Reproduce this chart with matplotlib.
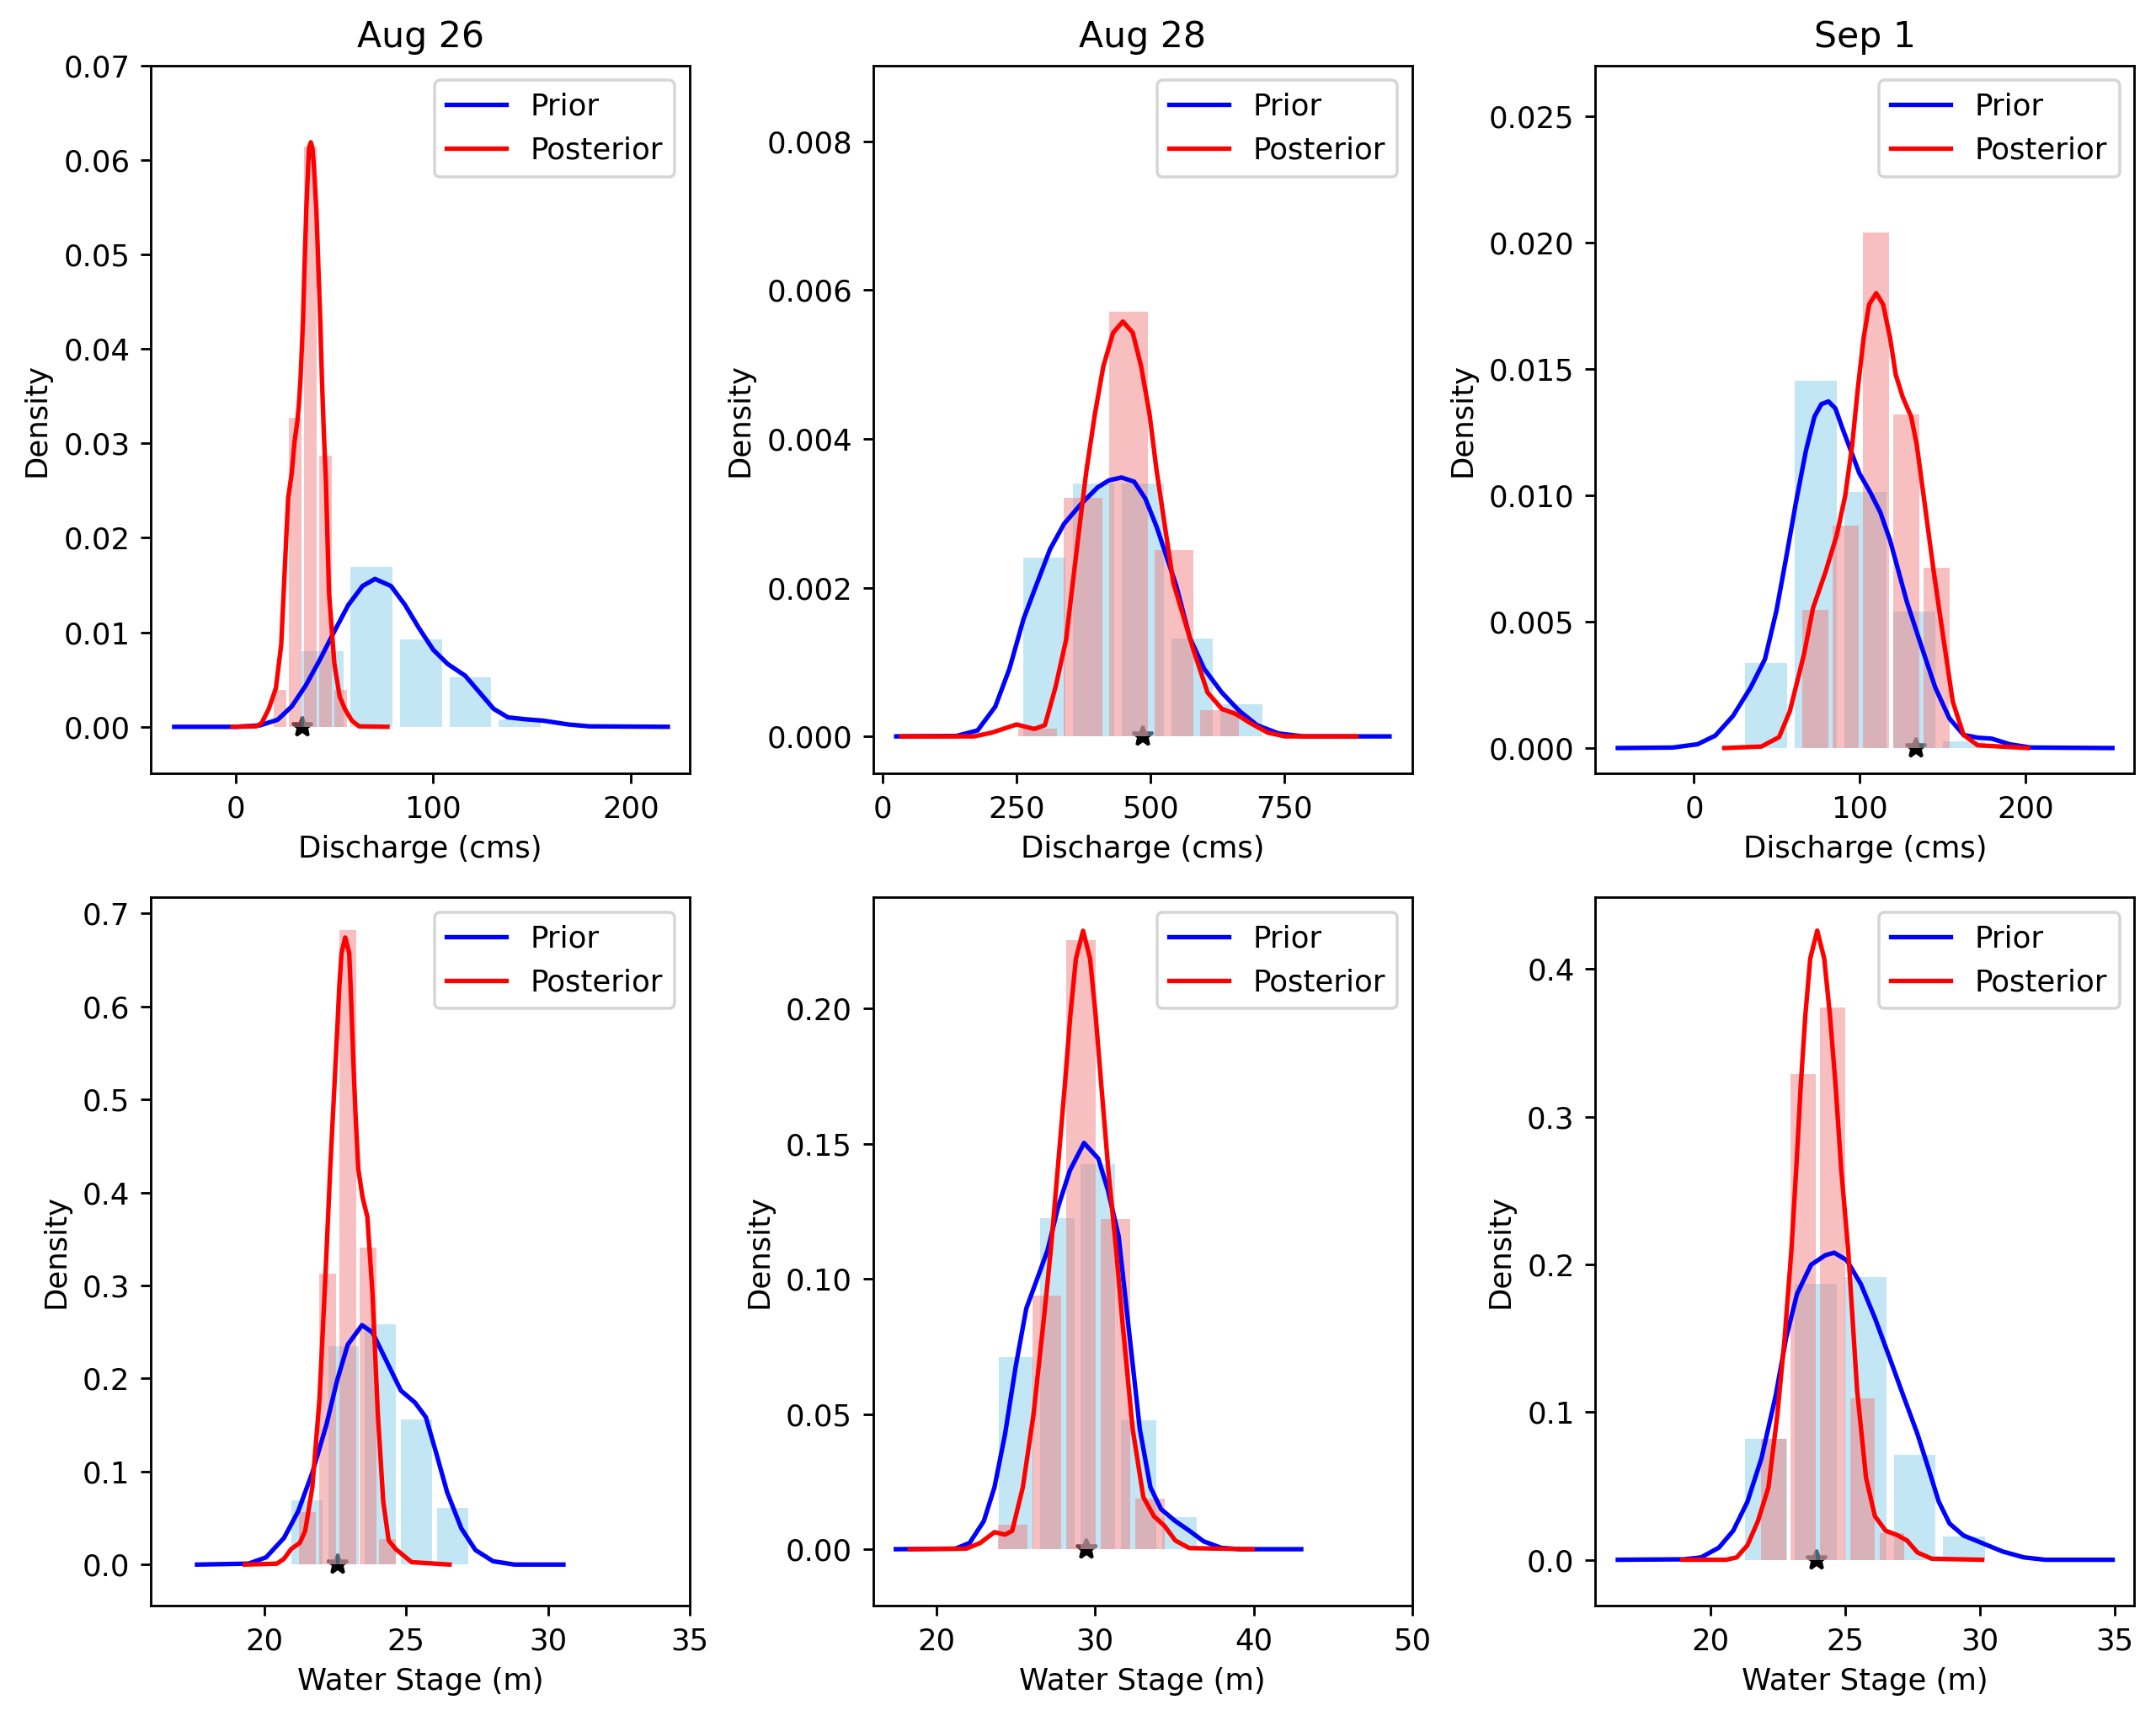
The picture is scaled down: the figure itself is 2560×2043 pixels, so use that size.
import numpy as np
import matplotlib.pyplot as plt

# titles / labels
dates = ['Aug 26', 'Aug 28', 'Sep 1']
xlabels = ['Discharge (cms)', 'Water Stage (m)']

# ---------------- Aug 26 discharge ----------------
q26_obs = 33.7
q26_prior_edges = [31.3, 56.3, 81.3, 106.3, 131.3, 156.3]
q26_prior_hist = [0.0080, 0.0169, 0.00925, 0.00525, 0.00075]
q26_post_edges = [18.45, 26.15, 33.85, 41.55, 49.25, 56.95]
q26_post_hist = [0.0039, 0.0327, 0.0614, 0.0287, 0.0039]
q26_prior_x = [-31.2, 0, 12.2, 21.2, 28.3, 35.5, 42.7, 49.9, 57.0, 64.2, 70.5, 78.6, 85.7,
               92.9, 100, 107.3, 116.2, 123.4, 130.6, 137.8, 146.7, 155.7, 168.3, 179, 218.8]
q26_prior_y = [0, 0, 0.00015, 0.00075, 0.00215, 0.0044, 0.00715, 0.0101, 0.0129, 0.0149, 0.01565,
               0.0149, 0.0129, 0.0104, 0.00815, 0.00665, 0.0054, 0.00365, 0.0019, 0.001, 0.0008,
               0.00065, 0.00025, 0.00005, 0]
q26_post_x = [-1.6, 10.4, 13.1, 16.7, 20.3, 23.0, 24.8, 26.5, 28.3, 29.7, 31.1, 31.9, 32.8, 34.0,
              34.8, 35.7, 36.6, 37.1, 38.0, 38.8, 39.6, 40.8, 41.8, 42.8, 43.6, 44.6, 45.6, 47.2,
              49.9, 52.6, 55.2, 58.8, 62.4, 76.8]
q26_post_y = [0, 0.00005, 0.0004, 0.0019, 0.0041, 0.0087, 0.0167, 0.0242, 0.0268, 0.0301, 0.0322,
              0.0339, 0.0369, 0.04285, 0.04878, 0.05473, 0.05918, 0.06126, 0.06186, 0.06126,
              0.05918, 0.05473, 0.04878, 0.04285, 0.0369, 0.03096, 0.0262, 0.0142, 0.0067, 0.0032,
              0.0019, 0.00065, 0.00005, 0]

# ---------------- Aug 28 discharge ----------------
q28_obs = 486.8
q28_prior_edges = [255.6, 347.8, 440.0, 532.2, 624.4, 716.6]
q28_prior_hist = [0.0024, 0.0034, 0.0034, 0.00131, 0.00043]
q28_post_edges = [247.5, 332.5, 417.5, 502.5, 587.5, 672.5]
q28_post_hist = [0.0001, 0.00321, 0.00571, 0.0025, 0.000356]
q28_prior_x = [25.1, 137.6, 177.2, 210.3, 236.8, 263.2, 286.5, 312.7, 338.8, 370.2, 401.7, 422.7,
               446.2, 469.8, 490.7, 511.7, 532.8, 548.5, 574.1, 600.5, 633.6, 666.7, 699.7, 739.4,
               785.7, 947]
q28_prior_y = [0, 0.000006, 0.00008, 0.0004, 0.00091, 0.00158, 0.002025, 0.002517, 0.002857,
               0.003121, 0.003348, 0.003442, 0.00348, 0.003424, 0.003197, 0.002819, 0.002365,
               0.002025, 0.00132, 0.00091, 0.00059, 0.00034, 0.00015, 0.00004, 0, 0]
q28_post_x = [35, 170.6, 203.7, 250, 283, 303, 322.8, 342.6, 354.5, 367.7, 380.7, 396.4, 412.2,
              430.5, 448.8, 467.2, 482.9, 498.6, 511.7, 527.4, 543.1, 580.7, 607, 633.6, 660,
              686.5, 719.6, 752.6, 885]
q28_post_y = [0, 0, 0.00005, 0.00016, 0.0001, 0.00015, 0.00066, 0.0013, 0.002025, 0.002819,
              0.003575, 0.004331, 0.004973, 0.005426, 0.005577, 0.005426, 0.004973, 0.004331,
              0.003575, 0.002819, 0.002064, 0.00116, 0.00059, 0.00037, 0.0003, 0.00018, 0.00005,
              0, 0]

# ---------------- Sep 1 discharge ----------------
q01_obs = 134.1
q01_prior_edges = [28.6, 58.44, 88.28, 118.12, 147.96, 177.8]
q01_prior_hist = [0.00337, 0.01452, 0.01012, 0.00539, 0.00028]
q01_post_edges = [64.0, 82.3, 100.7, 119.0, 137.3, 155.7]
q01_post_hist = [0.00548, 0.00879, 0.0204, 0.01321, 0.00713]
q01_prior_x = [-46, -12.8, 2.1, 12.8, 23.5, 34.2, 42.8, 49.7, 55.6, 61.6, 67.5, 72.6, 76.8, 81.1,
               85.3, 89.5, 94.6, 99.7, 106.5, 112.4, 118.3, 123.4, 128.5, 136.9, 145.5, 154, 162.6,
               171.1, 179.7, 190.4, 203.2, 252.4]
q01_prior_y = [0, 0.00002, 0.00015, 0.00049, 0.00127, 0.0024, 0.00352, 0.00543, 0.00754, 0.00976,
               0.01176, 0.0131, 0.0136, 0.01371, 0.01343, 0.01265, 0.01176, 0.01087, 0.01009,
               0.00932, 0.00821, 0.00698, 0.00576, 0.00408, 0.0024, 0.00118, 0.00052, 0.00041,
               0.00037, 0.00015, 0.00002, 0]
q01_post_x = [18.2, 40.6, 51.3, 57.8, 66.3, 71.8, 79.4, 86.1, 91.2, 95.4, 98.8, 102.3, 105.6,
              109.9, 114.1, 118.3, 121.7, 125.9, 131.0, 134.4, 137.8, 141.2, 144.6, 148.0, 156.1,
              162.6, 171.1, 201.5]
q01_post_y = [0, 0.00006, 0.00043, 0.00146, 0.0037, 0.00554, 0.00698, 0.00843, 0.00998, 0.01198,
              0.01421, 0.01621, 0.01754, 0.01799, 0.01754, 0.01621, 0.01476, 0.01388, 0.0131,
              0.01198, 0.01032, 0.00865, 0.00698, 0.00543, 0.00183, 0.00052, 0.00011, 0]

# ---------------- Aug 26 stage ----------------
h26_obs = 22.59
h26_prior_edges = [20.87, 22.15, 23.43, 24.72, 26.0, 27.28]
h26_prior_hist = [0.0691, 0.2349, 0.2583, 0.1559, 0.0613]
h26_post_edges = [21.18, 21.88, 22.58, 23.29, 23.99, 24.69]
h26_post_hist = [0.0561, 0.3129, 0.6824, 0.3404, 0.027]
h26_prior_x = [17.625, 19.44, 20.06, 20.69, 21.19, 21.69, 22.19, 22.56, 22.94, 23.44, 23.81, 24.31,
               24.81, 25.31, 25.69, 26.06, 26.44, 26.94, 27.44, 28.06, 28.81, 30.54]
h26_prior_y = [0, 0.001, 0.0078, 0.0286, 0.0572, 0.0988, 0.1507, 0.1975, 0.2365, 0.2573, 0.2495,
               0.2183, 0.1871, 0.1741, 0.1585, 0.1195, 0.078, 0.039, 0.0156, 0.0036, 0, 0]
h26_post_x = [19.31, 20.44, 20.69, 20.94, 21.25, 21.44, 21.69, 21.94, 22.17, 22.32, 22.47, 22.57,
              22.64, 22.72, 22.85, 22.99, 23.06, 23.13, 23.21, 23.31, 23.46, 23.63, 23.81, 24.0,
              24.19, 24.38, 24.63, 24.88, 25.19, 26.525]
h26_post_y = [0, 0.001, 0.0062, 0.0166, 0.0234, 0.0364, 0.0832, 0.1767, 0.3224, 0.425, 0.5155,
              0.5759, 0.6212, 0.6574, 0.674, 0.6574, 0.6061, 0.5457, 0.4854, 0.425, 0.3948, 0.3737,
              0.2911, 0.1611, 0.0676, 0.026, 0.0166, 0.0104, 0.0026, 0]

# ---------------- Aug 28 stage ----------------
h28_obs = 29.46
h28_prior_edges = [23.75, 26.32, 28.89, 31.46, 34.03, 36.6]
h28_prior_hist = [0.0712, 0.1225, 0.1424, 0.0476, 0.0118]
h28_post_edges = [23.72, 25.88, 28.04, 30.21, 32.37, 34.53]
h28_post_hist = [0.0091, 0.0939, 0.2254, 0.1222, 0.0186]
h28_prior_x = [17.43, 21.19, 22.08, 22.98, 23.65, 24.32, 24.99, 25.66, 26.33, 27.0, 27.67, 28.4,
               29.3, 30.2, 30.8, 31.48, 32.15, 32.82, 33.49, 34.16, 35.06, 35.95, 36.85, 37.96,
               39.08, 43.0]
h28_prior_y = [0, 0.0002, 0.0023, 0.0104, 0.0229, 0.0426, 0.0676, 0.0891, 0.0998, 0.1106, 0.1267,
               0.1400, 0.1503, 0.1445, 0.1330, 0.1159, 0.0801, 0.0444, 0.0229, 0.0148, 0.0104,
               0.0068, 0.0029, 0.0005, 0, 0]
h28_post_x = [18.32, 21.86, 22.75, 23.65, 24.32, 24.77, 25.44, 26.11, 26.78, 27.2, 27.64, 28.09,
              28.44, 28.79, 29.24, 29.68, 30.03, 30.39, 30.83, 31.33, 31.7, 32.37, 33.04, 33.71,
              34.38, 35.06, 35.95, 39.93]
h28_post_y = [0, 0.0002, 0.0023, 0.0063, 0.0054, 0.0068, 0.0229, 0.0497, 0.0860, 0.1104, 0.1405,
              0.1717, 0.1977, 0.2185, 0.2288, 0.2185, 0.1977, 0.1717, 0.1405, 0.1104, 0.0855,
              0.0444, 0.0193, 0.0122, 0.0086, 0.0032, 0.0004, 0]

# ---------------- Sep 1 stage ----------------
h01_obs = 23.92
h01_prior_edges = [21.14, 22.98, 24.81, 26.65, 28.48, 30.32]
h01_prior_hist = [0.0818, 0.1866, 0.1915, 0.071, 0.0157]
h01_post_edges = [21.79, 22.89, 23.98, 25.08, 26.18, 27.27]
h01_post_hist = [0.0818, 0.329, 0.3741, 0.1093, 0.018]
h01_prior_x = [16.55, 18.99, 19.64, 20.3, 20.83, 21.36, 21.88, 22.41, 22.8, 23.2, 23.72, 24.25,
               24.58, 25.04, 25.57, 26.09, 26.62, 27.14, 27.67, 28.07, 28.46, 28.86, 29.38, 30.04,
               30.83, 31.62, 32.41, 34.91]
h01_prior_y = [0, 0.0003, 0.0016, 0.0082, 0.0196, 0.0393, 0.0687, 0.1113, 0.1506, 0.18, 0.1997,
               0.2062, 0.2079, 0.2029, 0.1866, 0.1637, 0.1375, 0.1113, 0.0851, 0.0622, 0.0393,
               0.0245, 0.0164, 0.0115, 0.0056, 0.0016, 0, 0]
h01_post_x = [18.95, 20.57, 20.96, 21.36, 21.75, 22.14, 22.47, 22.74, 22.99, 23.17, 23.34, 23.51,
              23.69, 23.95, 24.21, 24.42, 24.63, 24.84, 25.1, 25.43, 25.76, 26.09, 26.49, 26.88,
              27.28, 27.67, 28.2, 30.07]
h01_post_y = [0, 0, 0.0016, 0.0098, 0.0262, 0.0491, 0.0982, 0.15, 0.2093, 0.2644, 0.3214, 0.3689,
              0.407, 0.426, 0.407, 0.3689, 0.3214, 0.2644, 0.2093, 0.1146, 0.0556, 0.0295, 0.0196,
              0.017, 0.0131, 0.0049, 0.0007, 0]

# axis settings per panel (row-major)
xlims = [(-43, 230), (-17.9, 989.4), (-59.5, 265.7), (16, 35), (16, 50), (15.72, 35.72)]
ylims = [(-0.00495, 0.07), (-0.0005, 0.00902), (-0.00101, 0.027),
         (-0.0442, 0.717), (-0.0209, 0.2411), (-0.0311, 0.4484)]
xticks = [[0, 100, 200], [0, 250, 500, 750], [0, 100, 200],
          [20, 25, 30, 35], [20, 30, 40, 50], [20, 25, 30, 35]]
yticks = [np.arange(0, 0.0701, 0.01), np.arange(0, 0.00801, 0.002), np.arange(0, 0.02501, 0.005),
          np.arange(0, 0.701, 0.1), np.arange(0, 0.2001, 0.05), np.arange(0, 0.401, 0.1)]

panels = [
    (q26_obs, q26_prior_edges, q26_prior_hist, q26_post_edges, q26_post_hist,
     q26_prior_x, q26_prior_y, q26_post_x, q26_post_y),
    (q28_obs, q28_prior_edges, q28_prior_hist, q28_post_edges, q28_post_hist,
     q28_prior_x, q28_prior_y, q28_post_x, q28_post_y),
    (q01_obs, q01_prior_edges, q01_prior_hist, q01_post_edges, q01_post_hist,
     q01_prior_x, q01_prior_y, q01_post_x, q01_post_y),
    (h26_obs, h26_prior_edges, h26_prior_hist, h26_post_edges, h26_post_hist,
     h26_prior_x, h26_prior_y, h26_post_x, h26_post_y),
    (h28_obs, h28_prior_edges, h28_prior_hist, h28_post_edges, h28_post_hist,
     h28_prior_x, h28_prior_y, h28_post_x, h28_post_y),
    (h01_obs, h01_prior_edges, h01_prior_hist, h01_post_edges, h01_post_hist,
     h01_prior_x, h01_prior_y, h01_post_x, h01_post_y),
]

fig, axes = plt.subplots(2, 3, figsize=(10, 7.9805), dpi=256)
fig.subplots_adjust(left=0.070, right=0.990, top=0.962, bottom=0.067, wspace=0.34, hspace=0.175)

for i, ax in enumerate(axes.flat):
    obs, pe, ph, qe, qh, px, py, qx, qy = panels[i]
    # observed value marker sits under the bars
    ax.plot([obs], [0], marker='*', color='black', markersize=7, linestyle='none', zorder=1)
    ax.hist(pe[:-1], bins=pe, weights=ph, rwidth=0.85, color='skyblue', alpha=0.5, zorder=1.5)
    ax.hist(qe[:-1], bins=qe, weights=qh, rwidth=0.85, color='lightcoral', alpha=0.5, zorder=1.5)
    ax.plot(px, py, color='blue', lw=1.5, label='Prior', zorder=2)
    ax.plot(qx, qy, color='red', lw=1.5, label='Posterior', zorder=2)
    ax.set_xlim(xlims[i])
    ax.set_ylim(ylims[i])
    ax.set_xticks(xticks[i])
    ax.set_yticks(yticks[i])
    ax.set_ylabel('Density')
    ax.set_xlabel(xlabels[i // 3])
    if i < 3:
        ax.set_title(dates[i], fontsize=12)
    ax.legend(loc='upper right')

plt.savefig('out.png', dpi=256)
